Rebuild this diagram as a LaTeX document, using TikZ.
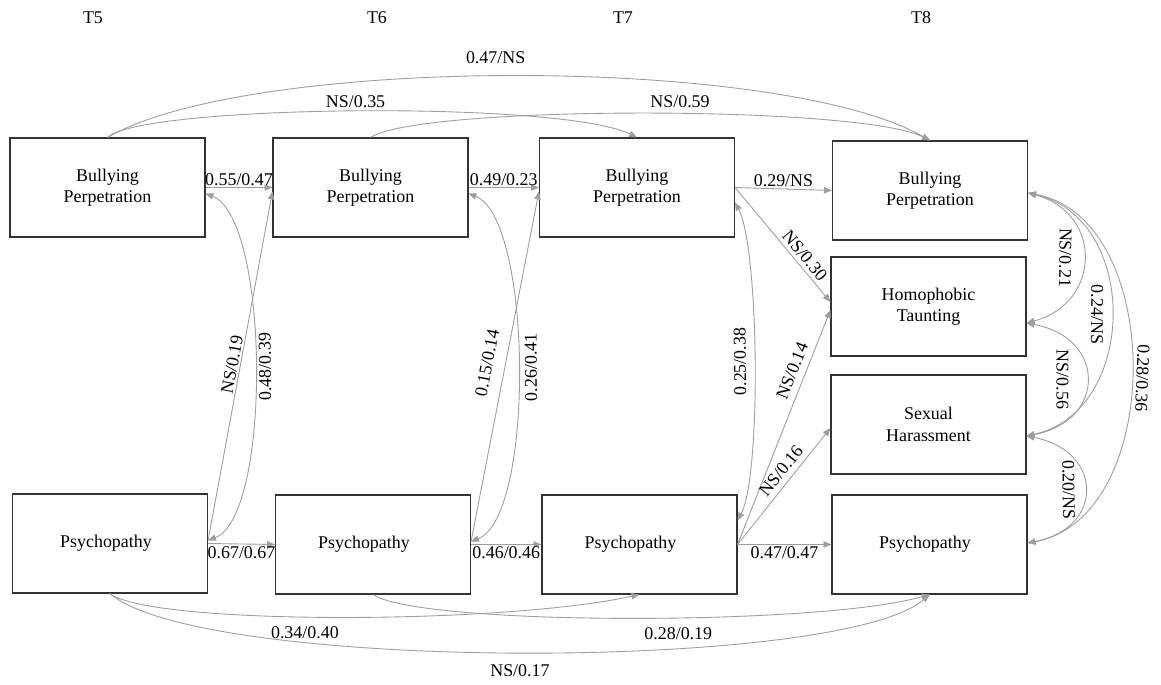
\documentclass[tikz,border=0pt]{standalone}
\usepackage{fontspec}
\setmainfont{Liberation Serif}
\usetikzlibrary{arrows.meta,calc}
\begin{document}
\begin{tikzpicture}[x=0.02cm,y=-0.02cm,
  font=\fontsize{10.2}{12.2}\selectfont,
  >={Triangle[length=4.5pt,width=3.6pt]},
  box/.style={draw=black!80, line width=0.65pt, minimum width=3.9cm, minimum height=1.98cm, align=center, inner sep=0pt},
  arr/.style={draw=black!38, line width=0.5pt, ->},
  dbl/.style={draw=black!38, line width=0.5pt, <->},
  lab/.style={inner sep=1pt, text=black},
  vl/.style={lab, sloped, allow upside down}]
\fill[white] (0,0) rectangle (1161,685);
\useasboundingbox (0,0) rectangle (1161,685);

% time labels
\node (t5) at (93,18) {T5};
\node (t6) at (377,18) {T6};
\node (t7) at (623,18) {T7};
\node (t8) at (921,18) {T8};

% boxes
\node[box] (b5) at (107.5,187.5) {Bullying\\Perpetration};
\node[box] (b6) at (370.5,187.5) {Bullying\\Perpetration};
\node[box] (b7) at (637,187.5) {Bullying\\Perpetration};
\node[box] (b8) at (930,190.5) {Bullying\\Perpetration};
\node[box] (ht) at (928.5,306.5) {Homophobic\\Taunting};
\node[box] (sh) at (928.5,424.5) {Sexual\\Harassment};
\node[box] (p8) at (929.5,544.5) {Psychopathy\hspace*{0.18cm}};
\node[box] (p5) at (110,543.5) {Psychopathy\hspace*{0.16cm}};
\node[box] (p6) at (373,544.5) {Psychopathy\hspace*{0.36cm}};
\node[box] (p7) at (639.5,544.5) {Psychopathy\hspace*{0.36cm}};

% autoregressive paths
\draw[arr] (b5.east) -- node[lab,above]{0.55/0.47} (b6.west);
\draw[arr] (b6.east) -- node[lab,above]{0.49/0.23} (b7.west);
\draw[arr] (b7.east) -- node[lab,above]{0.29/NS} (b8.west);
\draw[arr] (p5.east) -- node[lab,below]{0.67/0.67} (p6.west);
\draw[arr] (p6.east) -- node[lab,below]{0.46/0.46} (p7.west);
\draw[arr] (p7.east) -- node[lab,below]{0.47/0.47} (p8.west);

% cross-lagged paths
\draw[arr] ($(p5.east)+(0,-3)$) -- node[lab,sloped,above=0pt]{NS/0.19} ($(b6.west)+(0,4)$);
\draw[arr] ($(p6.east)+(0,-3)$) -- node[lab,sloped,above=5.7pt]{0.15/0.14} ($(b7.west)+(0,4)$);

% within-time correlations
\draw[dbl] ($(p5.east)+(0,-3)$) .. controls +(64,-25) and +(64,25) .. ($(b5.east)+(0,6)$)
  node[vl,pos=0.5,below=1.1pt]{0.48/0.39};
\draw[dbl] ($(p6.east)+(0,-3)$) .. controls +(64,-25) and +(64,25) .. ($(b6.east)+(0,6)$)
  node[vl,pos=0.5,below=2.8pt]{0.26/0.41};
\draw[dbl] ($(p7.east)+(0,-24)$) .. controls +(24,-45) and +(24,45) .. ($(b7.east)+(0,15)$)
  node[vl,pos=0.5,above=3.4pt]{0.25/0.38};

% paths to T8 outcomes
\draw[arr] (b7.east) -- node[lab,sloped,above=1pt,pos=0.65]{NS/0.30} ($(ht.west)+(0,-4.5)$);
\draw[arr] (p7.east) -- node[lab,sloped,above=2.8pt,pos=0.72]{NS/0.14} ($(ht.west)+(0,3.5)$);
\draw[arr] (p7.east) -- node[lab,sloped,above=2.2pt,pos=0.57]{NS/0.16} ($(sh.west)+(0,3.5)$);

% T8 correlations
\coordinate (B8e) at ($(b8.east)+(0,2.5)$);
\coordinate (HTe) at ($(ht.east)+(0,16.5)$);
\coordinate (SHe) at ($(sh.east)+(0,11.5)$);
\coordinate (P8e) at ($(p8.east)+(0,-1.5)$);
\draw[dbl] (B8e) .. controls +(75,20) and +(75,-20) .. (HTe) node[vl,pos=0.5,below=5.7pt]{NS/0.21};
\draw[dbl] (B8e) .. controls +(112,25) and +(112,-25) .. (SHe) node[vl,pos=0.5,below=3.4pt]{0.24/NS};
\draw[dbl] (HTe) .. controls +(80,15) and +(80,-15) .. (SHe) node[vl,pos=0.5,below=9pt]{NS/0.56};
\draw[dbl] (SHe) .. controls +(77,15) and +(77,-15) .. (P8e) node[vl,pos=0.5,below=4.5pt]{0.20/NS};
\draw[dbl] (B8e) .. controls +(138,25) and +(138,-25) .. (P8e) node[vl,pos=0.52,above=1.7pt]{0.28/0.36};

% long lags top
\draw[arr] (b5.north) .. controls (250,55) and (780,55) .. (b8.north) node[lab,pos=0.48,above=5.7pt]{0.47/NS};
\draw[arr] (b5.north) .. controls (140,105) and (560,100) .. (b7.north) node[lab,pos=0.5,above=0.8pt]{NS/0.35};
\draw[arr] (b6.north) .. controls (420,105) and (860,105) .. (b8.north) node[lab,pos=0.55,above=2pt]{NS/0.59};

% long lags bottom
\draw[arr] (p5.south) .. controls (150,625) and (500,625) .. (p7.south) node[lab,pos=0.45,below=4pt]{0.34/0.40};
\draw[arr] (p6.south) .. controls (420,626) and (820,626) .. (p8.south) node[lab,pos=0.57,below=4.5pt]{0.28/0.19};
\draw[arr] (p5.south) .. controls (200,672) and (840,672) .. (p8.south) node[lab,pos=0.5,below=5.4pt]{NS/0.17};
\end{tikzpicture}
\end{document}
